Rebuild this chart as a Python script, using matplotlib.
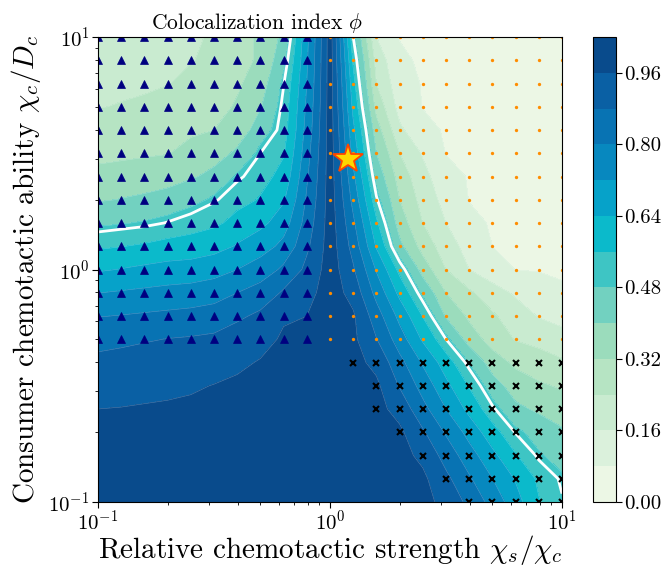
import numpy as np
import matplotlib
matplotlib.use("Agg")
import matplotlib.pyplot as plt

plt.rcParams['font.family'] = 'serif'
plt.rcParams['font.serif'] = ['cmr10', 'DejaVu Serif']
plt.rcParams['mathtext.fontset'] = 'cm'
plt.rcParams['axes.formatter.use_mathtext'] = True
plt.rcParams['axes.unicode_minus'] = False

# grid exponents (log10 of x = chi_s/chi_c, log10 of y = chi_c/D_c)
log_x = [-1.0, -0.9, -0.8, -0.7, -0.6, -0.5, -0.4, -0.3, -0.2, -0.1, 0.0,
         0.1, 0.2, 0.3, 0.4, 0.5, 0.6, 0.7, 0.8, 0.9, 1.0]
log_y_top_down = [1.0, 0.9, 0.8, 0.7, 0.6, 0.5, 0.4, 0.3, 0.2, 0.1, 0.0,
                  -0.1, -0.2, -0.3, -0.4, -0.5, -0.6, -0.7, -0.8, -0.9, -1.0]

# colocalization index, rows from top (y=10) to bottom (y=0.1)
phi_rows = [
 [0.195,0.200,0.205,0.215,0.228,0.250,0.289,0.335,0.420,0.700,1.0, 0.500,0.160,0.078,0.070,0.065,0.060,0.055,0.050,0.047,0.045],
 [0.209,0.213,0.218,0.226,0.237,0.255,0.300,0.330,0.460,0.710,1.0, 0.546,0.208,0.088,0.073,0.068,0.062,0.057,0.053,0.050,0.047],
 [0.224,0.228,0.231,0.238,0.255,0.274,0.309,0.362,0.497,0.720,1.0, 0.585,0.240,0.105,0.076,0.070,0.065,0.060,0.055,0.052,0.049],
 [0.238,0.243,0.249,0.262,0.281,0.297,0.328,0.394,0.516,0.735,1.0, 0.617,0.293,0.128,0.078,0.072,0.067,0.062,0.057,0.054,0.050],
 [0.268,0.274,0.280,0.290,0.307,0.320,0.352,0.444,0.525,0.750,1.0, 0.657,0.354,0.175,0.096,0.074,0.069,0.064,0.059,0.055,0.052],
 [0.300,0.305,0.311,0.317,0.344,0.367,0.415,0.500,0.553,0.770,1.0, 0.691,0.400,0.240,0.152,0.078,0.072,0.067,0.062,0.058,0.054],
 [0.340,0.348,0.357,0.368,0.391,0.421,0.489,0.532,0.587,0.790,1.0, 0.737,0.450,0.284,0.184,0.104,0.075,0.070,0.065,0.060,0.056],
 [0.393,0.403,0.414,0.429,0.457,0.493,0.535,0.566,0.631,0.810,1.0, 0.774,0.508,0.320,0.208,0.131,0.078,0.072,0.067,0.062,0.058],
 [0.467,0.476,0.486,0.503,0.525,0.545,0.585,0.620,0.683,0.835,1.0, 0.815,0.573,0.360,0.240,0.160,0.093,0.075,0.070,0.065,0.060],
 [0.547,0.558,0.569,0.585,0.594,0.611,0.647,0.685,0.742,0.865,1.0, 0.850,0.631,0.420,0.286,0.196,0.129,0.080,0.074,0.069,0.064],
 [0.631,0.643,0.656,0.667,0.672,0.688,0.720,0.756,0.816,0.900,1.0, 0.889,0.712,0.535,0.364,0.240,0.160,0.107,0.079,0.075,0.070],
 [0.719,0.727,0.735,0.743,0.750,0.764,0.800,0.832,0.891,0.935,1.0, 0.929,0.773,0.617,0.462,0.320,0.253,0.194,0.147,0.120,0.090],
 [0.797,0.803,0.810,0.817,0.824,0.836,0.868,0.895,0.949,0.960,1.0, 0.970,0.835,0.695,0.556,0.390,0.304,0.250,0.200,0.155,0.130],
 [0.856,0.865,0.874,0.882,0.887,0.894,0.911,0.933,0.972,0.975,1.0, 0.975,0.883,0.756,0.628,0.500,0.360,0.286,0.235,0.213,0.190],
 [0.898,0.903,0.909,0.914,0.920,0.929,0.948,0.965,0.983,0.985,1.0, 0.985,0.937,0.824,0.710,0.597,0.477,0.356,0.304,0.277,0.250],
 [0.929,0.935,0.941,0.947,0.953,0.962,0.970,0.978,0.990,0.990,1.0, 0.990,0.975,0.874,0.767,0.660,0.553,0.437,0.357,0.330,0.310],
 [0.960,0.962,0.965,0.967,0.970,0.975,0.980,0.985,0.994,0.995,1.0, 0.995,0.985,0.929,0.824,0.720,0.615,0.510,0.418,0.385,0.360],
 [0.975,0.976,0.978,0.980,0.982,0.985,0.988,0.990,0.996,0.997,1.0, 0.998,0.990,0.975,0.890,0.790,0.690,0.590,0.496,0.450,0.410],
 [0.985,0.986,0.987,0.988,0.990,0.992,0.993,0.994,0.998,0.998,1.0, 1.000,0.995,0.985,0.941,0.847,0.753,0.660,0.566,0.488,0.450],
 [0.990,0.991,0.992,0.993,0.995,0.996,0.996,0.997,0.999,0.999,1.0, 1.000,0.998,0.990,0.975,0.898,0.810,0.721,0.633,0.544,0.490],
 [0.995,0.995,0.996,0.997,0.998,0.998,0.998,0.999,1.000,1.000,1.0, 1.000,1.000,0.995,0.980,0.939,0.857,0.770,0.670,0.565,0.505],
]

# regime markers on the parameter grid
tri_log_x = [-1.0, -0.9, -0.8, -0.7, -0.6, -0.5, -0.4, -0.3, -0.2, -0.1]
tri_log_y = [1.0, 0.9, 0.8, 0.7, 0.6, 0.5, 0.4, 0.3, 0.2, 0.1, 0.0, -0.1, -0.2, -0.3]
dot_log_x = [0.0, 0.1, 0.2, 0.3, 0.4, 0.5, 0.6, 0.7, 0.8, 0.9, 1.0]
dot_log_y = [1.0, 0.9, 0.8, 0.7, 0.6, 0.5, 0.4, 0.3, 0.2, 0.1, 0.0, -0.1, -0.2, -0.3]
cross_log_y = [-0.4, -0.5, -0.6, -0.7, -0.8, -0.9, -1.0]
cross_first_log_x = [0.1, 0.2, 0.2, 0.3, 0.4, 0.5, 0.6]
cross_last_log_x = 1.0

star_x, star_y = 1.2, 3.0

levels = [0.00, 0.08, 0.16, 0.24, 0.32, 0.40, 0.48, 0.56, 0.64, 0.72, 0.80, 0.88, 0.96, 1.04]
cbar_ticks = [0.00, 0.16, 0.32, 0.48, 0.64, 0.80, 0.96]
band_colors = ['#ecf7e5', '#dbf1dc', '#c9ebd0', '#b6e4c3', '#9bdcbc', '#72d1c0',
               '#3ec5c4', '#0bbacb', '#06a2c9', '#0788bf', '#0873b3', '#0a60a4', '#094b8c']
white_level = 0.5

fig = plt.figure(figsize=(6.66, 5.67), dpi=100)
ax = fig.add_axes([98/666, 1-502/567, 464/666, 465/567])
cax = fig.add_axes([593/666, 1-502/567, 23/666, 465/567])

X, Y = np.meshgrid(10.0**np.array(log_x), 10.0**np.array(log_y_top_down[::-1]))
Z = np.array(phi_rows)[::-1]

cs = ax.contourf(X, Y, Z, levels=levels, colors=band_colors)
ax.contour(X, Y, Z, levels=levels[1:-1], colors='white', linewidths=0.4, alpha=0.3)
ax.contour(X, Y, Z, levels=[white_level], colors='white', linewidths=2)

tx, ty = np.meshgrid(10.0**np.array(tri_log_x), 10.0**np.array(tri_log_y))
ax.plot(tx.ravel(), ty.ravel(), '^', color='navy', ms=5.5, mew=0.5, ls='none')
dx, dy = np.meshgrid(10.0**np.array(dot_log_x), 10.0**np.array(dot_log_y))
ax.plot(dx.ravel(), dy.ravel(), 'o', color='darkorange', ms=2.4, mew=0, ls='none')
cxs, cys = [], []
for yy, x0 in zip(cross_log_y, cross_first_log_x):
    n = int(round((cross_last_log_x - x0) / 0.1)) + 1
    for k in range(n):
        cxs.append(10.0**(x0 + 0.1*k))
        cys.append(10.0**yy)
ax.plot(cxs, cys, 'x', color='black', ms=4.5, mew=1.5, ls='none')
ax.plot(star_x, star_y, marker='*', ms=22, mfc='gold', mec='orangered', mew=1.3, ls='none', zorder=5)

ax.set_xscale('log')
ax.set_yscale('log')
ax.set_xlim(0.1, 10)
ax.set_ylim(0.1, 10)
ax.tick_params(which='major', labelsize=15, length=4, pad=2)
ax.tick_params(axis='x', which='major', pad=1)
ax.tick_params(which='minor', length=2)
ax.set_xlabel(r'Relative chemotactic strength $\chi_s/\chi_c$', fontsize=21)
ax.xaxis.set_label_coords(0.5, -0.067)
ax.set_ylabel(r'Consumer chemotactic ability $\chi_c/D_c$', fontsize=21)
ax.yaxis.set_label_coords(-0.118, 0.5)
fig.text(257/666, 1-29/567, r'Colocalization index $\phi$', fontsize=15.5,
         ha='center', va='baseline')

cb = fig.colorbar(cs, cax=cax, ticks=cbar_ticks)
cb.ax.set_yticklabels(['%.2f' % t for t in cbar_ticks])
cb.ax.tick_params(labelsize=15, length=4, pad=2)

fig.savefig('out.png', dpi=100)
